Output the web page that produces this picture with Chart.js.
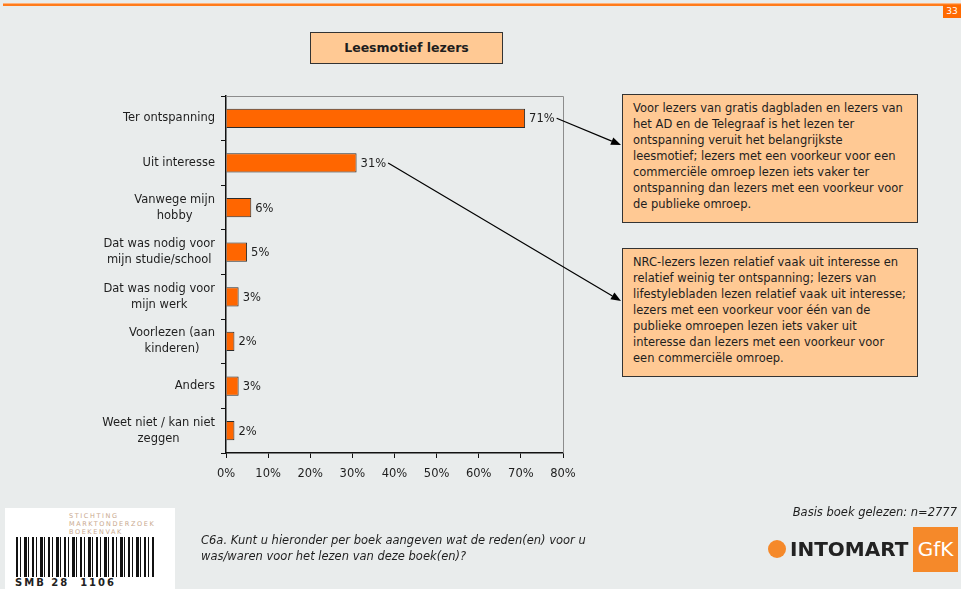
<!DOCTYPE html>
<html lang="nl">
<head>
    <meta charset="UTF-8">
    <title>Leesmotief lezers</title>
    <style>
        body {
            margin: 0;
            padding: 0;
            width: 961px;
            height: 589px;
            overflow: hidden;
            background-color: #e9ecec;
            font-family: "DejaVu Sans", Verdana, sans-serif;
            color: #1e1e1e;
        }
        #page {
            position: relative;
            width: 961px;
            height: 589px;
        }
        #chart {
            position: absolute;
            left: 0;
            top: 0;
        }
        .topline {
            position: absolute;
            left: 3px;
            right: 0;
            top: 3px;
            height: 2px;
            background: #ff7b1c;
            border-top: 1px solid #ffb27a;
        }
        .pagenr {
            position: absolute;
            left: 943px;
            top: 5px;
            width: 18px;
            height: 13px;
            background: #ff6a00;
            color: #fff;
            font-size: 9px;
            line-height: 13px;
            text-align: center;
        }
        .title {
            position: absolute;
            left: 310px;
            top: 32px;
            width: 191px;
            height: 30px;
            background: #ffc994;
            border: 1px solid #333;
            font-weight: bold;
            font-size: 12.5px;
            line-height: 30px;
            text-align: center;
        }
        .note {
            position: absolute;
            left: 622px;
            width: 274px;
            padding: 5px 10px 10px 10px;
            background: #ffc994;
            border: 1px solid #333;
            font-size: 11.5px;
            line-height: 16px;
            white-space: nowrap;
        }
        .basis {
            position: absolute;
            right: 4px;
            top: 505px;
            font-style: italic;
            font-size: 11.5px;
        }
        .question {
            position: absolute;
            left: 201px;
            top: 532px;
            font-style: italic;
            font-size: 11.5px;
            line-height: 16px;
        }
        .smb {
            position: absolute;
            left: 5px;
            top: 508px;
            width: 170px;
            height: 81px;
            background: #fff;
        }
        .smb .name {
            position: absolute;
            left: 64px;
            top: 4px;
            font-size: 6.5px;
            line-height: 8px;
            letter-spacing: 1.6px;
            color: #c9a98e;
        }
        .smb .code {
            position: absolute;
            left: 11px;
            top: 29px;
            width: 138px;
            height: 40px;
            background: repeating-linear-gradient(90deg,
                #111 0 2px, #fff 2px 4px, #111 4px 5px, #fff 5px 8px,
                #111 8px 11px, #fff 11px 12px, #111 12px 13px, #fff 13px 16px);
        }
        .smb .num {
            position: absolute;
            left: 10px;
            top: 69px;
            font-size: 10px;
            font-weight: bold;
            letter-spacing: 2px;
            color: #222;
        }
        .intomart {
            position: absolute;
            left: 768px;
            top: 537px;
            font-size: 20px;
            font-weight: bold;
            color: #222;
            line-height: 24px;
        }
        .intomart .dot {
            display: inline-block;
            width: 18px;
            height: 18px;
            border-radius: 50%;
            background: #f5892a;
            vertical-align: -2px;
            margin-right: 4px;
        }
        .gfk {
            position: absolute;
            left: 913px;
            top: 527px;
            width: 45px;
            height: 45px;
            background: #f5892a;
            color: #fff;
            font-size: 20px;
            line-height: 45px;
            text-align: center;
        }
    </style>
</head>
<body>
<div id="page">
    <canvas id="chart" width="961" height="589"></canvas>

    <div class="topline"></div>
    <div class="pagenr">33</div>
    <div class="title">Leesmotief lezers</div>

    <div class="note" style="top: 94px;">Voor lezers van gratis dagbladen en lezers van<br>het AD en de Telegraaf is het lezen ter<br>ontspanning veruit het belangrijkste<br>leesmotief; lezers met een voorkeur voor een<br>commerciële omroep lezen iets vaker ter<br>ontspanning dan lezers met een voorkeur voor<br>de publieke omroep.</div>
    <div class="note" style="top: 248px;">NRC-lezers lezen relatief vaak uit interesse en<br>relatief weinig ter ontspanning; lezers van<br>lifestylebladen lezen relatief vaak uit interesse;<br>lezers met een voorkeur voor één van de<br>publieke omroepen lezen iets vaker uit<br>interesse dan lezers met een voorkeur voor<br>een commerciële omroep.</div>

    <div class="basis">Basis boek gelezen: n=2777</div>
    <div class="question">C6a. Kunt u hieronder per boek aangeven wat de reden(en) voor u<br>was/waren voor het lezen van deze boek(en)?</div>

    <div class="smb">
        <div class="name">STICHTING<br>MARKTONDERZOEK<br>BOEKENVAK</div>
        <div class="code"></div>
        <div class="num">SMB 28 &nbsp;1106</div>
    </div>
    <div class="intomart"><span class="dot"></span>INTOMART</div>
    <div class="gfk">GfK</div>
</div>

<script src="https://cdn.jsdelivr.net/npm/chart.js"></script>
<script>
    // reasons for reading, top to bottom
    const categories = [
        ['Ter ontspanning'],
        ['Uit interesse'],
        ['Vanwege mijn', 'hobby'],
        ['Dat was nodig voor', 'mijn studie/school'],
        ['Dat was nodig voor', 'mijn werk'],
        ['Voorlezen (aan', 'kinderen)'],
        ['Anders'],
        ['Weet niet / kan niet', 'zeggen']
    ];
    const percentages = [71, 31, 6, 5, 3, 2, 3, 2];
    const xMin = 0;
    const xMax = 80;
    const xStep = 10;

    const FONT = '"DejaVu Sans", Verdana, sans-serif';
    const TEXT = '#1e1e1e';

    // category labels: block right aligned against the axis, lines centred in the block
    const categoryLabels = {
        id: 'categoryLabels',
        afterDraw(chart) {
            const ctx = chart.ctx;
            const y = chart.scales.y;
            ctx.save();
            ctx.font = '11.5px ' + FONT;
            ctx.fillStyle = TEXT;
            ctx.textAlign = 'center';
            ctx.textBaseline = 'middle';
            const right = chart.chartArea.left - 11;
            const lh = 16;
            categories.forEach((lines, i) => {
                const w = Math.max(...lines.map(l => ctx.measureText(l).width));
                const cx = right - w / 2;
                const cy = y.getPixelForValue(i);
                lines.forEach((l, j) => {
                    ctx.fillText(l, cx, cy + (j - (lines.length - 1) / 2) * lh);
                });
            });
            ctx.restore();
        }
    };

    // grey frame on top and right of the plot area
    const plotFrame = {
        id: 'plotFrame',
        beforeDatasetsDraw(chart) {
            const { ctx, chartArea: a } = chart;
            ctx.save();
            ctx.strokeStyle = '#8c8c8c';
            ctx.lineWidth = 1;
            ctx.beginPath();
            ctx.moveTo(a.left, a.top + 0.5);
            ctx.lineTo(a.right + 0.5, a.top + 0.5);
            ctx.lineTo(a.right + 0.5, a.bottom);
            ctx.stroke();
            ctx.restore();
        }
    };

    // value labels after each bar plus the two arrows to the notes
    const valueLabels = {
        id: 'valueLabels',
        afterDraw(chart) {
            const ctx = chart.ctx;
            const bars = chart.getDatasetMeta(0).data;
            ctx.save();
            ctx.font = '11.5px ' + FONT;
            ctx.fillStyle = TEXT;
            ctx.textAlign = 'left';
            ctx.textBaseline = 'middle';
            const ends = [];
            bars.forEach((bar, i) => {
                const txt = percentages[i] + '%';
                ctx.fillText(txt, bar.x + 4, bar.y + 1);
                ends.push({ x: bar.x + 6 + ctx.measureText(txt).width, y: bar.y });
            });
            arrow(ctx, ends[0].x, ends[0].y, 621, 145);
            arrow(ctx, ends[1].x, ends[1].y, 621, 301);
            ctx.restore();
        }
    };

    function arrow(ctx, x1, y1, x2, y2) {
        const ang = Math.atan2(y2 - y1, x2 - x1);
        const len = 10, half = 4;
        ctx.strokeStyle = '#000';
        ctx.fillStyle = '#000';
        ctx.lineWidth = 1.2;
        ctx.beginPath();
        ctx.moveTo(x1, y1);
        ctx.lineTo(x2 - Math.cos(ang) * len, y2 - Math.sin(ang) * len);
        ctx.stroke();
        ctx.beginPath();
        ctx.moveTo(x2, y2);
        ctx.lineTo(x2 - Math.cos(ang) * len - Math.sin(ang) * half, y2 - Math.sin(ang) * len + Math.cos(ang) * half);
        ctx.lineTo(x2 - Math.cos(ang) * len + Math.sin(ang) * half, y2 - Math.sin(ang) * len - Math.cos(ang) * half);
        ctx.closePath();
        ctx.fill();
    }

    new Chart(document.getElementById('chart'), {
        type: 'bar',
        data: {
            labels: categories,
            datasets: [{
                data: percentages,
                backgroundColor: '#ff6600',
                borderColor: '#2b2b2b',
                borderWidth: 1,
                barPercentage: 0.43,
                categoryPercentage: 1
            }]
        },
        options: {
            indexAxis: 'y',
            responsive: false,
            animation: false,
            layout: {
                padding: { left: 0, top: 96, right: 398, bottom: 106 }
            },
            plugins: {
                legend: { display: false },
                tooltip: { enabled: false }
            },
            scales: {
                x: {
                    min: xMin,
                    max: xMax,
                    afterFit(scale) { scale.height = 30; },
                    border: { color: '#111', width: 1.5 },
                    grid: {
                        drawOnChartArea: false,
                        tickLength: 5,
                        color: '#111'
                    },
                    ticks: {
                        stepSize: xStep,
                        padding: 9,
                        color: TEXT,
                        font: { family: FONT, size: 11.5 },
                        callback: v => v + '%'
                    }
                },
                y: {
                    afterFit(scale) { scale.width = 226; },
                    border: { color: '#111', width: 1.5 },
                    grid: {
                        drawOnChartArea: false,
                        offset: true,
                        tickLength: 5,
                        color: '#111'
                    },
                    ticks: { color: 'transparent' }
                }
            }
        },
        plugins: [plotFrame, categoryLabels, valueLabels]
    });
</script>
</body>
</html>
